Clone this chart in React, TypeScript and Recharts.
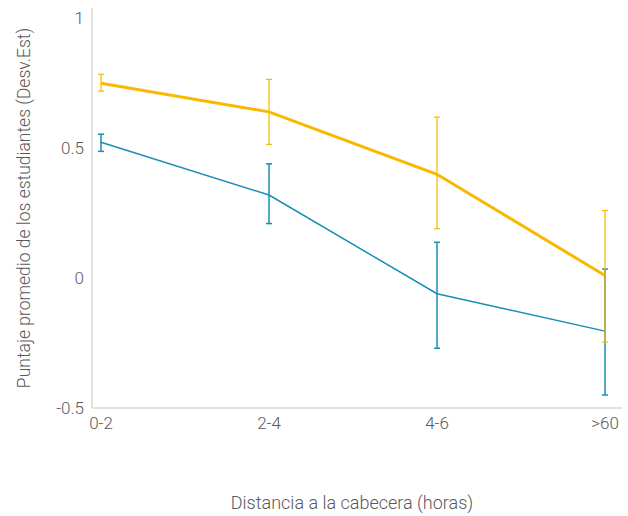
import { LineChart, Line, XAxis, YAxis, ErrorBar } from "recharts";

const categorias = ["0-2", "2-4", "4-6", ">60"];

// serie amarilla (línea gruesa)
const amarilloMedia = [0.75, 0.64, 0.4, 0.01];
const amarilloBajo = [0.72, 0.515, 0.19, -0.246];
const amarilloAlto = [0.785, 0.765, 0.62, 0.26];

// serie azul (línea delgada)
const azulMedia = [0.523, 0.32, -0.06, -0.204];
const azulBajo = [0.488, 0.21, -0.27, -0.45];
const azulAlto = [0.554, 0.44, 0.138, 0.035];

const yTicks = [-0.5, 0, 0.5, 1];

const AMARILLO = "#F9B800";
const AZUL = "#1A8DB4";
const TEXTO = "#595959";
const EJE = "#d9d9d9";

const data = categorias.map((cat, i) => ({
  cat,
  amarillo: amarilloMedia[i],
  amarilloErr: [amarilloMedia[i] - amarilloBajo[i], amarilloAlto[i] - amarilloMedia[i]],
  azul: azulMedia[i],
  azulErr: [azulMedia[i] - azulBajo[i], azulAlto[i] - azulMedia[i]],
}));

const fuente = "Roboto, 'DejaVu Sans', sans-serif";

export default function App() {
  return (
    <div style={{ position: "absolute", left: 0, top: 0, fontFamily: fuente }}>
      <LineChart
        width={628}
        height={516}
        data={data}
        margin={{ top: 8, right: 6, bottom: 0, left: 0 }}
      >
        <XAxis
          dataKey="cat"
          height={108}
          padding={{ left: 9, right: 17 }}
          tickLine={false}
          axisLine={{ stroke: EJE, strokeWidth: 1.5 }}
          tick={{ fill: TEXTO, fontSize: 17, fontFamily: fuente, fontWeight: 300 }}
          tickMargin={3}
          label={{
            content: () => (
              <text
                x={352}
                y={509}
                textAnchor="middle"
                fill={TEXTO}
                fontSize={18}
                fontWeight={300}
                fontFamily={fuente}
              >
                Distancia a la cabecera (horas)
              </text>
            ),
          }}
        />
        <YAxis
          width={92}
          domain={[-0.5, 1.04]}
          ticks={yTicks}
          tickLine={false}
          axisLine={{ stroke: EJE, strokeWidth: 1.5 }}
          tick={{ fill: TEXTO, fontSize: 17, fontFamily: fuente, fontWeight: 300 }}
          label={{
            content: () => (
              <text
                x={0}
                y={0}
                transform="translate(30 208) rotate(-90)"
                textAnchor="middle"
                fill={TEXTO}
                fontSize={17.5}
                fontWeight={300}
                fontFamily={fuente}
              >
                Puntaje promedio de los estudiantes (Desv.Est)
              </text>
            ),
          }}
        />
        <Line
          type="linear"
          dataKey="azul"
          stroke={AZUL}
          strokeWidth={1.5}
          dot={false}
          activeDot={false}
          isAnimationActive={false}
        >
          <ErrorBar dataKey="azulErr" direction="y" width={3} stroke={AZUL} strokeWidth={1.5} />
        </Line>
        <Line
          type="linear"
          dataKey="amarillo"
          stroke={AMARILLO}
          strokeWidth={3}
          dot={false}
          activeDot={false}
          isAnimationActive={false}
        >
          <ErrorBar dataKey="amarilloErr" direction="y" width={3} stroke={AMARILLO} strokeWidth={1.2} />
        </Line>
      </LineChart>
    </div>
  );
}
